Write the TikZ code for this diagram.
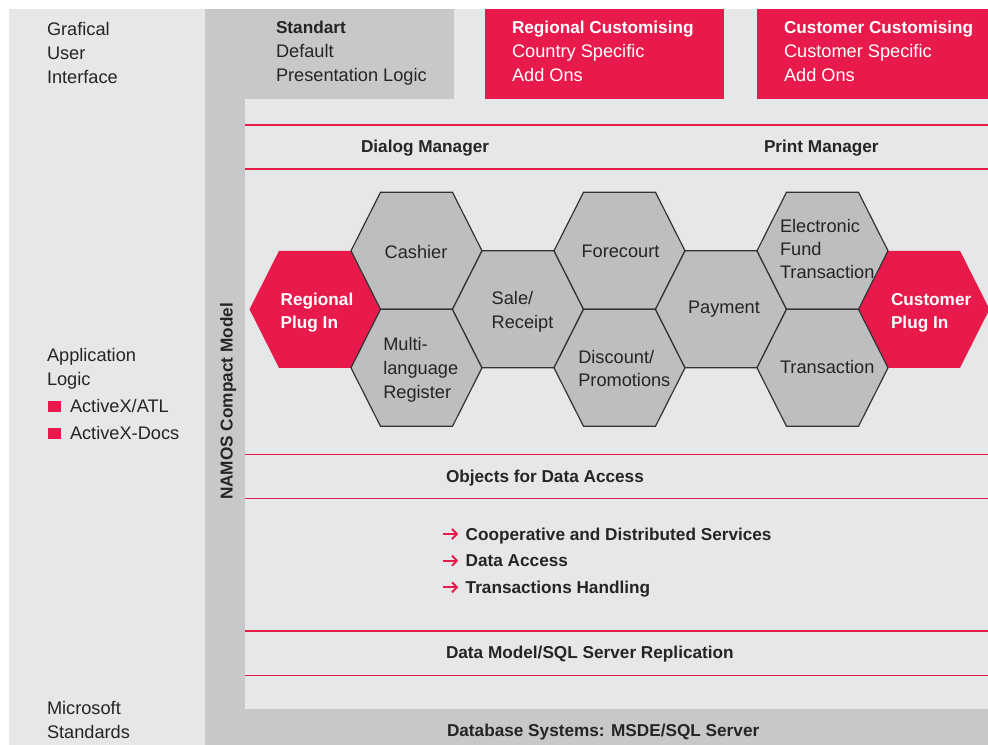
\documentclass[tikz,border=0pt]{standalone}
\usepackage{fontspec}
\setmainfont{Liberation Sans}
\usetikzlibrary{arrows.meta}
\definecolor{bglight}{HTML}{E6E7E8}
\definecolor{bgmid}{HTML}{C7C8CA}
\definecolor{hexgray}{HTML}{BDBEC0}
\definecolor{nred}{HTML}{E8194B}
\definecolor{ink}{HTML}{262425}
\definecolor{hexline}{HTML}{333333}
\newcommand\rfont{\fontsize{13.65pt}{18pt}\selectfont}
\newcommand\bfont{\fontsize{12.9pt}{18pt}\selectfont\bfseries}
\newcommand\hfont{\fontsize{13.65pt}{17.4pt}\selectfont}
\newcommand\hbfont{\fontsize{12.9pt}{17.25pt}\selectfont\bfseries}
\tikzset{
  txt/.style={inner sep=0pt, outer sep=0pt, anchor=base west, text=ink, font=\rfont, align=left},
  btxt/.style={txt, font=\bfont},
  hextxt/.style={txt, font=\hfont},
  hexbtxt/.style={txt, font=\hbfont, text=white},
  redline/.style={draw=nred, line width=1pt},
  grayhex/.style={fill=hexgray, draw=hexline, line width=0.9pt, line join=miter},
  redhex/.style={fill=nred},
  hexa/.pic={\path[pic actions] (-65.5,0) -- (-36,-58.5) -- (36,-58.5) -- (65.5,0) -- (36,58.5) -- (-36,58.5) -- cycle;},
  redarr/.style={draw=nred, line width=1.5pt, -{Straight Barb[length=3.6pt, width=7.6pt, line width=1.5pt]}}
}
\begin{document}
\begin{tikzpicture}[x=0.75pt,y=-0.75pt]
\useasboundingbox (0,0) rectangle (988,745);
\fill[white] (0,0) rectangle (988,745);
% backgrounds
\fill[bglight] (9,9) rectangle (988,745);
\fill[bgmid] (205,9) rectangle (454,99);
\fill[bgmid] (205,99) rectangle (245,745);
\fill[bgmid] (245,709) rectangle (988,745);
\fill[nred] (485,9) rectangle (724,99);
\fill[nred] (757,9) rectangle (988,99);
% separator lines
\foreach \yy in {125,169,454.3,498.7,631,675.3}
  \draw[redline] (245,\yy) -- (988,\yy);
% left column (multi-line nodes anchored at the last baseline)
\node[txt] (gui) at (47,84) {Grafical\\User\\Interface};
\node[txt, font=\fontsize{13.65pt}{17.5pt}\selectfont] (applogic) at (47,385) {Application\\Logic};
\fill[nred] (48,401) rectangle (61,412.3);
\node[txt] (atl) at (70,412.3) {ActiveX/ATL};
\fill[nred] (48,427.5) rectangle (61,439.3);
\node[txt] (docs) at (70,439.3) {ActiveX-Docs};
\node[txt] (msstd) at (47,738) {Microsoft\\Standards};
% top boxes
\node[txt] (std) at (276,82) {{\bfont Standart}\\Default\\Presentation Logic};
\node[txt, text=white] (regc) at (512,82) {{\bfont Regional Customising}\\Country Specific\\Add Ons};
\node[txt, text=white] (cusc) at (784,82) {{\bfont Customer Customising}\\Customer Specific\\Add Ons};
% managers
\node[btxt] (dialog) at (361,153) {Dialog Manager};
\node[btxt] (print) at (764,153) {Print Manager};
% vertical label
\node[inner sep=0pt, text=ink, font=\bfont, rotate=90, anchor=base] (namos) at (232.5,401.5) {NAMOS Compact Model};
% hexagons
\pic[redhex] at (315,309.3) {hexa};
\pic[redhex] at (924,309.3) {hexa};
\pic[grayhex] at (416.5,250.8) {hexa};
\pic[grayhex] at (416.5,367.8) {hexa};
\pic[grayhex] at (518,309.3) {hexa};
\pic[grayhex] at (619.5,250.8) {hexa};
\pic[grayhex] at (619.5,367.8) {hexa};
\pic[grayhex] at (721,309.3) {hexa};
\pic[grayhex] at (822.5,250.8) {hexa};
\pic[grayhex] at (822.5,367.8) {hexa};
% hexagon texts
\node[hexbtxt] (regplug) at (280.7,328) {Regional\\Plug In};
\node[hextxt, anchor=base] (cashier) at (416,258) {Cashier};
\node[hextxt, font=\fontsize{13.65pt}{17.7pt}\selectfont] (multi) at (383.3,398) {Multi-\\language\\Register};
\node[hextxt] (sale) at (491.7,328) {Sale/\\Receipt};
\node[hextxt, anchor=base] (forecourt) at (620.5,257.3) {Forecourt};
\node[hextxt] (discount) at (578.3,386.7) {Discount/\\Promotions};
\node[hextxt, anchor=base] (payment) at (724,313.3) {Payment};
\node[hextxt, font=\fontsize{13.65pt}{16.9pt}\selectfont] (eft) at (780,278) {Electronic\\Fund\\Transaction};
\node[hextxt] (trans) at (780,373) {Transaction};
\node[hexbtxt] (cusplug) at (891,328) {Customer\\Plug In};
% data layers
\node[btxt] (oda) at (446,482.7) {Objects for Data Access};
\node[btxt] (coop) at (465.7,540) {Cooperative and Distributed Services};
\node[btxt] (dacc) at (465.7,566.7) {Data Access};
\node[btxt] (thand) at (465.7,593.3) {Transactions Handling};
\foreach \n in {coop,dacc,thand}
  \draw[redarr] ([shift={(-23,-6)}]\n.base west) -- ([shift={(-7.5,-6)}]\n.base west);
\node[btxt] (dmodel) at (446,658.3) {Data Model/SQL Server Replication};
\node[btxt] (dbsys) at (447,736) {Database Systems: MSDE/SQL Server};
\end{tikzpicture}
\end{document}
